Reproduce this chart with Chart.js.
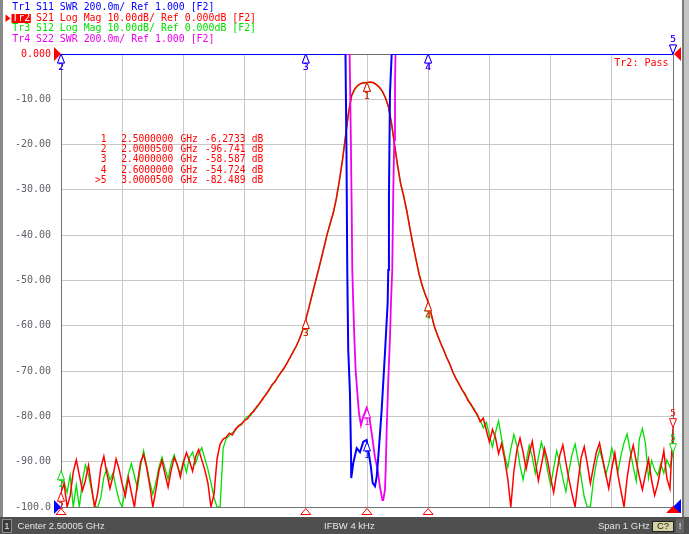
<!DOCTYPE html>
<html>
<head>
<meta charset="utf-8">
<script src="https://cdn.jsdelivr.net/npm/chart.js@4.4.1/dist/chart.umd.min.js"></script>
<style>
  html, body { margin: 0; padding: 0; background: #ffffff; }
  canvas { display: block; }
</style>
</head>
<body>
<canvas id="vnaChart" width="689" height="534"></canvas>
<script>
//Sweep settings (Center 2.50005 GHz, Span 1 GHz, 201 points)
const sweepStart = 2000.05;   //MHz
const sweepStop = 3000.05;    //MHz
const sweepPoints = 201;
const sweepFreqs = Array.from({ length: sweepPoints }, (_, i) => sweepStart + i * (sweepStop - sweepStart) / (sweepPoints - 1));

//Tr2 S21 Log Mag (dB), one value per sweep point
const s21LogMag = [
  -96.741, -94.8, -100, -97.5, -92.3, -89.6, -93.0, -96.4, -94.1, -90.8,
  -95.7, -100, -96.9, -91.4, -88.8, -92.6, -95.9, -93.2, -89.4, -91.7,
  -94.9, -97.6, -93.5, -96.8, -100, -94.6, -90.1, -88.4, -91.3, -95.2,
  -100, -96.3, -92.0, -89.7, -92.8, -95.6, -91.9, -89.1, -90.6, -93.4,
  -90.2, -88.0, -89.9, -92.1, -88.9, -87.3, -89.6, -91.8, -94.7, -100,
  -97.2, -89.4, -86.1, -85.0, -84.6, -83.7, -84.1, -82.8, -82.2, -81.6,
  -80.9, -80.5, -79.4, -78.9, -77.8, -77.1, -76.0, -75.2, -74.1, -73.0,
  -72.3, -71.1, -70.2, -69.2, -68.1, -66.8, -65.6, -64.3, -62.8, -60.9,
  -58.587, -56.0, -53.3, -50.6, -48.0, -45.3, -42.5, -39.7, -37.3, -35.0,
  -31.8, -27.8, -23.3, -18.0, -12.8, -9.1, -7.7, -6.9, -6.5, -6.35,
  -6.2733, -6.2, -6.3, -6.7, -7.3, -8.2, -9.6, -11.6, -15.2, -20.0,
  -24.6, -28.6, -31.4, -34.6, -38.4, -42.0, -45.3, -48.5, -51.0, -53.0,
  -54.724, -57.4, -60.1, -62.0, -63.7, -65.3, -66.9, -68.4, -70.1, -71.6,
  -72.7, -74.1, -75.0, -76.5, -77.3, -78.6, -79.5, -81.2, -80.4, -83.1,
  -85.6, -82.9, -84.7, -88.2, -86.0, -89.5, -93.8, -100, -92.1, -87.4,
  -84.8, -87.9, -91.6, -88.3, -85.5, -89.9, -94.2, -90.7, -87.1, -89.8,
  -93.5, -96.8, -92.4, -88.6, -86.3, -90.2, -93.9, -97.1, -100, -94.3,
  -89.0, -86.7, -90.5, -94.8, -91.2, -87.8, -85.9, -89.3, -92.7, -95.9,
  -91.5, -88.1, -92.9, -96.5, -100, -93.6, -89.2, -86.4, -90.0, -93.3,
  -96.2, -92.8, -89.5, -94.1, -97.4, -95.0, -91.3, -87.6, -93.7, -96.0,
  -82.489
];

//Tr3 S12 Log Mag (dB), one value per sweep point
const s12LogMag = [
  -92.0, -94.5, -96.8, -93.0, -100, -95.1, -100, -94.2, -90.7, -92.9,
  -96.3, -100, -100, -98.0, -93.4, -91.6, -94.0, -92.5, -95.8, -98.6,
  -100, -96.0, -92.7, -90.4, -93.1, -95.9, -91.0, -87.6, -90.9, -94.4,
  -97.2, -94.6, -91.2, -89.0, -91.5, -93.8, -90.3, -88.5, -90.9, -92.6,
  -89.8, -92.3, -89.0, -87.9, -90.4, -88.2, -86.9, -89.3, -91.7, -94.6,
  -97.9, -100, -100, -87.0, -84.9, -84.2, -83.6, -83.1, -82.0, -81.9,
  -80.7, -80.0, -79.8, -78.6, -78.1, -76.9, -76.2, -75.0, -74.3, -73.1,
  -72.1, -71.3, -70.1, -69.3, -68.0, -66.9, -65.5, -64.4, -62.7, -61.0,
  -58.7, -56.1, -53.4, -50.7, -48.1, -45.4, -42.6, -39.8, -37.4, -35.1,
  -31.9, -27.9, -23.4, -18.1, -12.9, -9.2, -7.8, -7.0, -6.55, -6.4,
  -6.3, -6.25, -6.35, -6.75, -7.35, -8.25, -9.7, -11.7, -15.3, -20.1,
  -24.7, -28.7, -31.5, -34.7, -38.5, -42.1, -45.4, -48.6, -51.1, -53.1,
  -54.8, -57.5, -60.2, -62.1, -63.8, -65.2, -67.0, -68.3, -70.2, -71.5,
  -72.9, -73.9, -75.3, -76.2, -77.6, -78.3, -79.9, -80.8, -82.5, -81.3,
  -84.2, -86.8, -83.5, -81.0, -84.9, -88.6, -91.3, -87.2, -84.0, -86.5,
  -90.8, -94.0, -90.1, -86.4, -88.9, -92.6, -89.1, -85.7, -88.3, -91.9,
  -95.2, -91.4, -87.6, -90.3, -93.7, -96.6, -92.0, -88.4, -86.1, -89.7,
  -93.5, -97.8, -100, -100, -94.1, -90.0, -87.3, -89.8, -93.0, -90.5,
  -87.0, -89.4, -92.2, -88.6, -85.8, -83.9, -87.5, -91.1, -94.3, -85.0,
  -82.7, -86.0, -93.6, -89.7, -91.8, -93.0, -90.4, -92.5, -89.6, -91.2,
  -88.0
];

//Tr1 S11 SWR (display units, clipped at the reference line outside the passband)
const s11Freqs = [2000.05, 2464.9, 2466.5, 2467.8, 2469.4, 2472.2, 2473.9, 2474.3, 2477.6, 2483.2,
  2488.6, 2494.0, 2499.5, 2502.1, 2506.5, 2509.3, 2513.1, 2515.8, 2518.5, 2524.0,
  2529.4, 2533.8, 2534.8, 2535.9, 2537.6, 2540.4, 3000.05];
const s11Swr = [1.000, 1.000, 0.576, 0.046, -0.306, -0.496, -0.758, -0.872, -0.806, -0.740,
  -0.758, -0.712, -0.704, -0.748, -0.824, -0.894, -0.908, -0.868, -0.780, -0.572,
  -0.320, -0.100, 0.046, 0.368, 0.828, 1.000, 1.000];

//Tr4 S22 SWR (display units)
const s22Freqs = [2000.05, 2471.7, 2473.4, 2475.0, 2476.0, 2477.6, 2479.3, 2481.5, 2484.8, 2486.9,
  2490.2, 2493.9, 2499.5, 2503.8, 2507.7, 2513.1, 2517.5, 2521.2, 2525.3, 2526.6,
  2529.4, 2530.6, 2532.2, 2534.8, 2537.6, 2539.2, 2541.3, 2543.0, 2544.6, 2545.8,
  2546.6, 3000.05];
const s22Swr = [1.000, 1.000, 0.678, 0.324, 0.046, -0.100, -0.250, -0.396, -0.514, -0.584,
  -0.638, -0.602, -0.562, -0.602, -0.674, -0.780, -0.836, -0.912, -0.970, -0.970,
  -0.924, -0.836, -0.660, -0.440, -0.250, -0.100, 0.046, 0.400, 0.620, 0.854,
  1.000, 1.000];

//Markers (shared by all traces) and the Tr2 readouts
const markerIds = ['1', '2', '3', '4', '5'];
const markerFreqs = [2500.0, 2000.05, 2400.0, 2600.0, 3000.05];
const markerReadouts = ['-6.2733', '-96.741', '-58.587', '-54.724', '-82.489'];
const activeMarker = '5';

//Trace colours
const colS11 = '#0000ff';
const colS21 = '#ff0000';
const colS12 = '#00e000';
const colS22 = '#f000f0';

const monoFont = '"DejaVu Sans Mono", "Liberation Mono", monospace';
const sansFont = '"Liberation Sans", Arial, sans-serif';

function toPoints(xs, ys) {
    return xs.map((x, i) => ({ x: x, y: ys[i] }));
}

//Linear interpolation along a trace, used to place markers on it
function valueAt(xs, ys, f) {
    if (f <= xs[0]) return ys[0];
    for (let i = 1; i < xs.length; i++) {
        if (f <= xs[i]) {
            const t = (f - xs[i - 1]) / (xs[i] - xs[i - 1]);
            return ys[i - 1] + t * (ys[i] - ys[i - 1]);
        }
    }
    return ys[ys.length - 1];
}

function drawMarker(ctx, x, y, label, color, flip) {
    const dir = flip ? -1 : 1;
    ctx.save();
    ctx.lineWidth = 1;
    ctx.strokeStyle = color;
    ctx.fillStyle = '#ffffff';
    ctx.beginPath();
    ctx.moveTo(x, y);
    ctx.lineTo(x - 3.5, y + dir * 9);
    ctx.lineTo(x + 3.5, y + dir * 9);
    ctx.closePath();
    ctx.fill();
    ctx.stroke();
    ctx.fillStyle = color;
    ctx.font = '9.5px ' + monoFont;
    ctx.textAlign = 'center';
    ctx.textBaseline = 'middle';
    ctx.fillText(label, x, y + dir * 14);
    ctx.restore();
}

function tri(ctx, pts, fill, stroke) {
    ctx.beginPath();
    ctx.moveTo(pts[0], pts[1]);
    ctx.lineTo(pts[2], pts[3]);
    ctx.lineTo(pts[4], pts[5]);
    ctx.closePath();
    if (fill) { ctx.fillStyle = fill; ctx.fill(); }
    if (stroke) { ctx.strokeStyle = stroke; ctx.lineWidth = 1; ctx.stroke(); }
}

//Everything drawn around the grid: window frame, trace headers, status bar
const vnaFrame = {
    id: 'vnaFrame',
    beforeDraw(chart) {
        const ctx = chart.ctx;
        const W = chart.width, H = chart.height;
        ctx.save();
        ctx.fillStyle = '#ffffff';
        ctx.fillRect(0, 0, W, H);
        ctx.fillStyle = '#8a8a8a';
        ctx.fillRect(0, 0, 3, H);
        ctx.fillStyle = '#c4c4c4';
        ctx.fillRect(684, 0, W - 684, H);
        ctx.fillStyle = '#7a7a7a';
        ctx.fillRect(682, 0, 2, 517);

        //Trace header lines
        ctx.font = '9.9px ' + monoFont;
        ctx.textBaseline = 'middle';
        ctx.textAlign = 'left';
        const hx = 12.3;
        ctx.fillStyle = colS11;
        ctx.fillText('Tr1 S11 SWR 200.0m/ Ref 1.000 [F2]', hx, 7.8);
        tri(ctx, [5.5, 14.5, 10.5, 18.3, 5.5, 22.1], colS21, null);
        const trW = ctx.measureText('Tr2').width;
        ctx.fillStyle = colS21;
        ctx.fillRect(11.5, 14, trW + 1.5, 9);
        ctx.fillStyle = '#ffffff';
        ctx.fillText('Tr2', hx, 18.4);
        ctx.fillStyle = colS21;
        ctx.fillText(' S21 Log Mag 10.00dB/ Ref 0.000dB [F2]', hx + trW, 18.4);
        ctx.fillStyle = colS12;
        ctx.fillText('Tr3 S12 Log Mag 10.00dB/ Ref 0.000dB [F2]', hx, 28.7);
        ctx.fillStyle = colS22;
        ctx.fillText('Tr4 S22 SWR 200.0m/ Ref 1.000 [F2]', hx, 39.0);

        //Status bar
        ctx.fillStyle = '#4f4f4f';
        ctx.fillRect(0, 517, W, H - 517);
        ctx.fillStyle = '#3a3a3a';
        ctx.fillRect(2, 519, 10, 14);
        ctx.strokeStyle = '#8c8c8c';
        ctx.lineWidth = 1;
        ctx.strokeRect(2.5, 519.5, 9, 13);
        ctx.font = '9.5px ' + sansFont;
        ctx.fillStyle = '#e6e6e6';
        ctx.textAlign = 'center';
        ctx.fillText('1', 7, 526);
        ctx.textAlign = 'left';
        ctx.fillText('Center 2.50005 GHz', 17.6, 526);
        ctx.fillText('IFBW 4 kHz', 324, 526);
        ctx.fillText('Span 1 GHz', 598, 526);
        ctx.fillStyle = '#d6d2a4';
        ctx.fillRect(652, 521, 22, 11);
        ctx.strokeStyle = '#222222';
        ctx.strokeRect(652.5, 521.5, 21, 10);
        ctx.fillStyle = '#222222';
        ctx.textAlign = 'center';
        ctx.fillText('C?', 663, 526.5);
        ctx.fillStyle = '#666666';
        ctx.fillRect(676, 519, 8, 14);
        ctx.fillStyle = '#eeeeee';
        ctx.fillText('!', 680, 526);
        ctx.restore();
    },
    beforeDatasetsDraw(chart) {
        //Plot border, under the traces so the clipped SWR line sits on top
        const a = chart.chartArea;
        const ctx = chart.ctx;
        ctx.save();
        ctx.strokeStyle = '#707070';
        ctx.lineWidth = 1;
        ctx.strokeRect(Math.round(a.left) + 0.5, Math.round(a.top) + 0.5, Math.round(a.right - a.left), Math.round(a.bottom - a.top));
        ctx.restore();
    },
    afterDatasetsDraw(chart) {
        const ctx = chart.ctx;
        const a = chart.chartArea;
        const xs = chart.scales.x;
        const yDb = chart.scales.y;
        const ySwr = chart.scales.ySwr;

        //Trace markers, drawn back to front
        const traces = [
            { xs: s22Freqs, ys: s22Swr, scale: ySwr, color: colS22 },
            { xs: sweepFreqs, ys: s12LogMag, scale: yDb, color: colS12 },
            { xs: sweepFreqs, ys: s21LogMag, scale: yDb, color: colS21 },
            { xs: s11Freqs, ys: s11Swr, scale: ySwr, color: colS11 }
        ];
        traces.forEach(t => {
            markerFreqs.forEach((f, i) => {
                const px = xs.getPixelForValue(f);
                const py = t.scale.getPixelForValue(valueAt(t.xs, t.ys, f));
                drawMarker(ctx, px, py, markerIds[i], t.color, f >= sweepStop);
            });
        });

        ctx.save();
        //Reference level arrows
        tri(ctx, [a.left - 7, a.top - 7, a.left, a.top, a.left - 7, a.top + 7], colS21, null);
        tri(ctx, [a.right + 8, a.top - 7, a.right + 1, a.top, a.right + 8, a.top + 7], colS21, null);
        tri(ctx, [a.left - 7, a.bottom - 7, a.left, a.bottom, a.left - 7, a.bottom + 7], colS11, null);
        tri(ctx, [a.right + 8, a.bottom - 8, a.right + 8, a.bottom + 6, a.right - 6, a.bottom + 6], colS11, null);

        //Stimulus markers under the grid
        markerFreqs.forEach((f, i) => {
            const px = xs.getPixelForValue(f);
            if (markerIds[i] === activeMarker) {
                tri(ctx, [px, a.bottom - 1, px + 7, a.bottom + 6, px - 7, a.bottom + 6], colS21, null);
            } else {
                tri(ctx, [px, a.bottom + 1.5, px + 5, a.bottom + 7.5, px - 5, a.bottom + 7.5], '#ffffff', colS21);
            }
        });

        //Marker readout table for Tr2
        ctx.font = '9.6px ' + monoFont;
        ctx.textBaseline = 'middle';
        ctx.fillStyle = colS21;
        markerIds.forEach((id, i) => {
            const ty = 139 + i * 10.35;
            const ghz = (markerFreqs[i] / 1000).toFixed(7);
            ctx.textAlign = 'right';
            ctx.fillText((id === activeMarker ? '>' : '') + id, 106.5, ty);
            ctx.textAlign = 'left';
            ctx.fillText(ghz, 121.2, ty);
            ctx.fillText('GHz', 180.5, ty);
            ctx.fillText(markerReadouts[i], 205, ty);
            ctx.fillText('dB', 251.7, ty);
        });

        //Limit test result
        ctx.font = '10px ' + monoFont;
        ctx.textAlign = 'right';
        ctx.fillText('Tr2: Pass', 668.5, 63.5);
        ctx.restore();
    }
};

const ctx = document.getElementById('vnaChart').getContext('2d');
const vnaChart = new Chart(ctx, {
    type: 'line',
    data: {
        datasets: [
            { label: 'Tr1 S11', data: toPoints(s11Freqs, s11Swr), yAxisID: 'ySwr', borderColor: colS11, borderWidth: 2 },
            { label: 'Tr4 S22', data: toPoints(s22Freqs, s22Swr), yAxisID: 'ySwr', borderColor: colS22, borderWidth: 1.8 },
            { label: 'Tr2 S21', data: toPoints(sweepFreqs, s21LogMag), yAxisID: 'y', borderColor: colS21, borderWidth: 1.5 },
            { label: 'Tr3 S12', data: toPoints(sweepFreqs, s12LogMag), yAxisID: 'y', borderColor: colS12, borderWidth: 1.3 }
        ]
    },
    options: {
        responsive: false,
        animation: false,
        layout: { padding: { left: 0, top: 54, right: 16, bottom: 27 } },
        elements: { point: { radius: 0 }, line: { tension: 0, fill: false } },
        plugins: { legend: { display: false }, tooltip: { enabled: false } },
        scales: {
            x: {
                type: 'linear',
                min: sweepStart,
                max: sweepStop,
                afterBuildTicks: (scale) => {
                    const step = (sweepStop - sweepStart) / 10;
                    scale.ticks = Array.from({ length: 11 }, (_, i) => ({ value: sweepStart + i * step }));
                },
                afterFit: (scale) => { scale.height = 0; },
                ticks: { display: false },
                grid: { color: '#c8c8c8', drawTicks: false },
                border: { display: false }
            },
            y: {
                min: -100,
                max: 0,
                afterFit: (scale) => { scale.width = 61; },
                ticks: {
                    stepSize: 10,
                    autoSkip: false,
                    padding: 10,
                    font: { family: monoFont, size: 10 },
                    color: (c) => (c.tick && c.tick.value === 0 ? colS21 : '#5f6068'),
                    callback: (v) => (v === 0 ? '0.000' : (v === -100 ? '-100.0' : v.toFixed(2)))
                },
                grid: { color: '#c8c8c8', drawTicks: false },
                border: { display: false }
            },
            ySwr: { display: false, min: -1, max: 1 }
        }
    },
    plugins: [vnaFrame]
});
</script>
</body>
</html>
